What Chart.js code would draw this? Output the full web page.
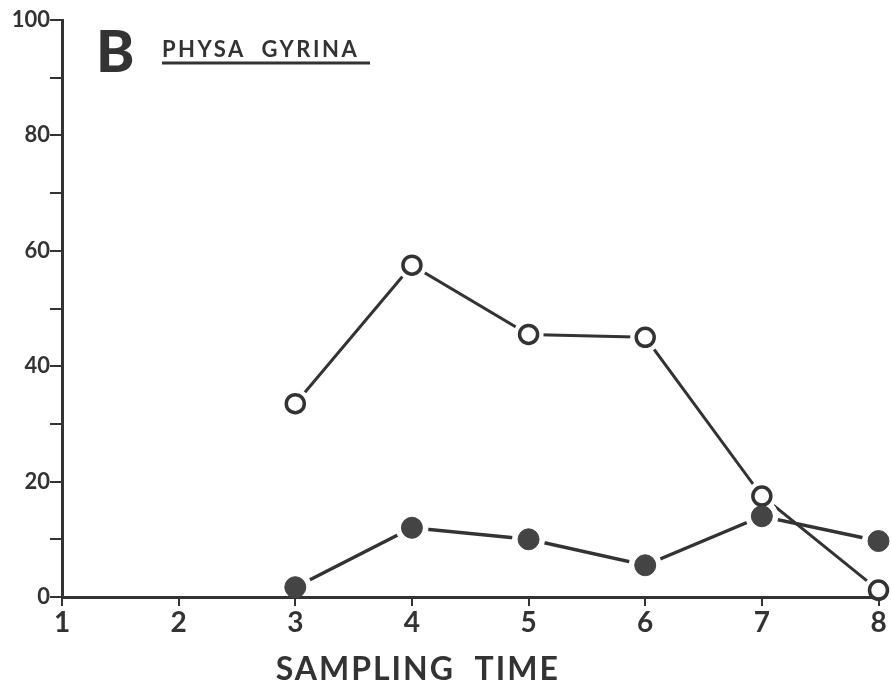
<!DOCTYPE html>
<html>
<head>
<meta charset="utf-8">
<script src="https://cdn.jsdelivr.net/npm/chart.js@4/dist/chart.umd.min.js"></script>
<style>
  html, body { margin: 0; padding: 0; background: #fff; }
  #wrap { width: 891px; height: 683px; }
</style>
</head>
<body>
<div id="wrap"><canvas id="physa-chart"></canvas></div>
<script>
// values (percent)
const samplingTimes = [3, 4, 5, 6, 7, 8];
const openCircles = [33.5, 57.5, 45.5, 45, 17.5, 1.2];
const filledCircles = [1.7, 12, 10, 5.5, 14, 9.7];
const yTickLabels = [0, 20, 40, 60, 80, 100];

const ink = "#333";

const toPoints = (vals) => samplingTimes.map((t, i) => ({ x: t, y: vals[i] }));

// white ring round each marker so the joining lines stop short of it
const haloPlugin = {
  id: "halo",
  afterDatasetsDraw(chart) {
    const ctx = chart.ctx;
    const area = chart.chartArea;
    ctx.save();
    ctx.beginPath();
    ctx.rect(area.left + 3, area.top - 20, area.right - area.left + 20, area.bottom - area.top + 18);
    ctx.clip();
    chart.data.datasets.forEach((ds, i) => {
      chart.getDatasetMeta(i).data.forEach((pt) => {
        ctx.beginPath();
        ctx.arc(pt.x, pt.y, ds.pointRadius + 6, 0, Math.PI * 2);
        ctx.fillStyle = "#fff";
        ctx.fill();
      });
    });
    ctx.restore();
    chart.data.datasets.forEach((ds, i) => {
      chart.getDatasetMeta(i).data.forEach((pt) => pt.draw(ctx));
    });
  },
};

const labelsPlugin = {
  id: "labels",
  afterDraw(chart) {
    const ctx = chart.ctx;
    const x = chart.scales.x;
    ctx.save();
    ctx.fillStyle = ink;
    ctx.textBaseline = "alphabetic";
    ctx.textAlign = "left";
    ctx.font = "900 58px Lato";
    ctx.fillText("B", 96, 72);
    ctx.font = "bold 22px Lato";
    ctx.letterSpacing = "2.5px";
    ctx.fillText("PHYSA  GYRINA", 162, 57);
    ctx.strokeStyle = ink;
    ctx.lineWidth = 3;
    ctx.beginPath();
    ctx.moveTo(162, 63);
    ctx.lineTo(370, 63);
    ctx.stroke();
    ctx.textAlign = "center";
    ctx.font = "bold 32px Lato";
    ctx.letterSpacing = "2px";
    ctx.fillText("SAMPLING  TIME", x.getPixelForValue(4.05), 680);
    ctx.restore();
  },
};

const ctx = document.getElementById("physa-chart").getContext("2d");
const chart = new Chart(ctx, {
  type: "line",
  data: {
    datasets: [
      {
        label: "open",
        data: toPoints(openCircles),
        borderColor: ink,
        borderWidth: 3,
        pointRadius: 9,
        pointBorderWidth: 3.5,
        pointBackgroundColor: "#fff",
        pointBorderColor: ink,
        clip: false,
      },
      {
        label: "filled",
        data: toPoints(filledCircles),
        borderColor: ink,
        borderWidth: 3.5,
        pointRadius: 10.5,
        pointBorderWidth: 1,
        pointBackgroundColor: "#444",
        pointBorderColor: "#444",
        clip: false,
      },
    ],
  },
  plugins: [haloPlugin, labelsPlugin],
  options: {
    responsive: true,
    maintainAspectRatio: false,
    animation: false,
    layout: { padding: { top: 20, right: 0, left: 0, bottom: 0 } },
    plugins: { legend: { display: false }, tooltip: { enabled: false } },
    scales: {
      x: {
        type: "linear",
        min: 1,
        max: 8,
        ticks: { stepSize: 1, color: ink, font: { family: "Lato", size: 28, weight: "bold" }, padding: 0 },
        grid: { drawOnChartArea: false, drawTicks: true, tickLength: 9, color: ink, lineWidth: 2 },
        border: { color: ink, width: 3 },
        afterFit(scale) {
          scale.height = 86;
          scale.paddingLeft = 0;
          scale.paddingRight = 9;
        },
      },
      y: {
        min: 0,
        max: 100,
        ticks: {
          stepSize: 10,
          color: ink,
          padding: 0,
          font: { family: "Lato", size: 22, weight: "bold" },
          callback: (v) => (yTickLabels.includes(v) ? v : ""),
        },
        grid: { drawOnChartArea: false, drawTicks: true, tickLength: 12, color: ink, lineWidth: 2 },
        border: { color: ink, width: 3 },
        afterFit(scale) { scale.width = 62; },
      },
    },
  },
});
</script>
</body>
</html>
